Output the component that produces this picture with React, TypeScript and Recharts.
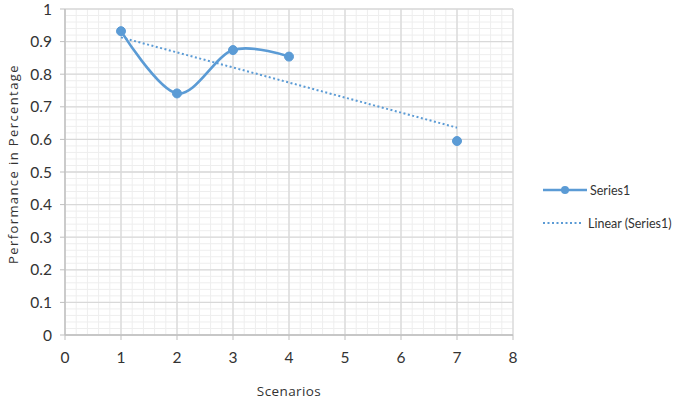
import React from 'react';
import {
  ComposedChart,
  Line,
  XAxis,
  YAxis,
  CartesianGrid,
  Legend,
  Label,
} from 'recharts';

// ---- data ----
const scenarios = [1, 2, 3, 4, 5, 6, 7];
const performance: (number | null)[] = [0.932, 0.741, 0.874, 0.854, null, null, 0.595];
const trendScenarios = [1, 7];
const trendValues = [0.913, 0.636];
const xTicks = [0, 1, 2, 3, 4, 5, 6, 7, 8];
const yTicks = [0, 0.1, 0.2, 0.3, 0.4, 0.5, 0.6, 0.7, 0.8, 0.9, 1];
const seriesName = 'Series1';
const trendName = 'Linear (Series1)';
const xTitle = 'Scenarios';
const yTitle = 'Performance in Percentage';

const BLUE = '#5B9BD5';
const TEXT = '#333333';

const seriesData = scenarios.map((x, i) => ({ x, y: performance[i] }));
const trendData = trendScenarios.map((x, i) => ({ x, y: trendValues[i] }));

const minorX = Array.from({ length: 41 }, (_, i) => +(i * 0.2).toFixed(2));
const minorY = Array.from({ length: 51 }, (_, i) => +(i * 0.02).toFixed(2));

// Catmull-Rom style (cardinal, tension 0) curve similar to Excel smoothing
function smoothCurve(context: any) {
  const k = 1 / 6;
  const s: any = {
    _x0: NaN, _x1: NaN, _x2: NaN, _y0: NaN, _y1: NaN, _y2: NaN, _point: 0, _line: NaN,
  };
  const bez = (x: number, y: number) => {
    context.bezierCurveTo(
      s._x1 + k * (s._x2 - s._x0),
      s._y1 + k * (s._y2 - s._y0),
      s._x2 + k * (s._x1 - x),
      s._y2 + k * (s._y1 - y),
      s._x2,
      s._y2
    );
  };
  return {
    areaStart() { s._line = 0; },
    areaEnd() { s._line = NaN; },
    lineStart() {
      s._x0 = s._x1 = s._x2 = s._y0 = s._y1 = s._y2 = NaN;
      s._point = 0;
    },
    lineEnd() {
      switch (s._point) {
        case 2: context.lineTo(s._x2, s._y2); break;
        case 3: bez(s._x1, s._y1); break;
      }
      if (s._line || (s._line !== 0 && s._point === 1)) context.closePath();
      s._line = 1 - s._line;
    },
    point(x: number, y: number) {
      x = +x; y = +y;
      switch (s._point) {
        case 0:
          s._point = 1;
          s._line ? context.lineTo(x, y) : context.moveTo(x, y);
          break;
        case 1:
          s._point = 2;
          s._x1 = x; s._y1 = y;
          break;
        case 2:
          s._point = 3;
          bez(x, y);
          break;
        default:
          bez(x, y);
          break;
      }
      s._x0 = s._x1; s._x1 = s._x2; s._x2 = x;
      s._y0 = s._y1; s._y1 = s._y2; s._y2 = y;
    },
  };
}

const renderLegend = () => (
  <div style={{ fontFamily: 'Lato, sans-serif', fontSize: 12.5, color: TEXT, width: 150 }}>
    <div style={{ display: 'flex', alignItems: 'center', height: 14 }}>
      <svg width={44} height={12} style={{ display: 'block' }}>
        <line x1={0} y1={6} x2={44} y2={6} stroke={BLUE} strokeWidth={2.5} />
        <circle cx={22} cy={6} r={4} fill={BLUE} />
      </svg>
      <span style={{ marginLeft: 3 }}>{seriesName}</span>
    </div>
    <div style={{ display: 'flex', alignItems: 'center', height: 14, marginTop: 19 }}>
      <svg width={40} height={12} style={{ display: 'block' }}>
        <line x1={0} y1={6} x2={40} y2={6} stroke={BLUE} strokeWidth={2} strokeDasharray="2 2.5" />
      </svg>
      <span style={{ marginLeft: 5 }}>{trendName}</span>
    </div>
  </div>
);

const YTitle = (props: any) => {
  const vb = props.viewBox || { x: 0, y: 9, width: 65, height: 326 };
  const cx = 13;
  const cy = vb.y + vb.height / 2 - 8;
  return (
    <text
      x={cx}
      y={cy}
      transform={`rotate(-90, ${cx}, ${cy})`}
      textAnchor="middle"
      dominantBaseline="central"
      fontFamily="'Open Sans', sans-serif"
      fontSize={13}
      letterSpacing={1.4}
      fill={TEXT}
    >
      {yTitle}
    </text>
  );
};

export default function App() {
  return (
    <div style={{ position: 'absolute', left: 0, top: 0, width: 685, height: 400, background: '#fff' }}>
      <ComposedChart
        width={685}
        height={400}
        margin={{ top: 9, right: 172, bottom: 0, left: 0 }}
      >
        <CartesianGrid
          stroke="#eeeeee"
          strokeWidth={1}
          horizontalValues={minorY}
          verticalValues={minorX}
        />
        <CartesianGrid
          stroke="#d9d9d9"
          strokeWidth={1.3}
          horizontalValues={yTicks}
          verticalValues={xTicks}
        />
        <XAxis
          type="number"
          dataKey="x"
          domain={[0, 8]}
          ticks={xTicks}
          interval={0}
          allowDataOverflow
          height={65}
          tickSize={5}
          tickMargin={12}
          axisLine={{ stroke: '#bfbfbf', strokeWidth: 1.3 }}
          tickLine={{ stroke: '#bfbfbf' }}
          tick={{ fill: TEXT, fontSize: 15.5, fontFamily: 'Lato, sans-serif' }}
        >
          <Label
            value={xTitle}
            position="insideBottom"
            offset={4}
            style={{ fill: TEXT, fontSize: 13.5, fontFamily: "'Open Sans', sans-serif", letterSpacing: 0.4 }}
          />
        </XAxis>
        <YAxis
          type="number"
          domain={[0, 1]}
          ticks={yTicks}
          interval={0}
          allowDataOverflow
          width={65}
          tickSize={5}
          tickMargin={8}
          axisLine={{ stroke: '#bfbfbf', strokeWidth: 1.3 }}
          tickLine={{ stroke: '#bfbfbf' }}
          tick={{ fill: TEXT, fontSize: 15.5, fontFamily: 'Lato, sans-serif' }}
        >
          <Label content={<YTitle />} />
        </YAxis>
        <Line
          data={trendData}
          dataKey="y"
          name={trendName}
          type="linear"
          stroke={BLUE}
          strokeWidth={2}
          strokeDasharray="2 2.5"
          dot={false}
          activeDot={false}
          isAnimationActive={false}
        />
        <Line
          data={seriesData}
          dataKey="y"
          name={seriesName}
          type={smoothCurve as any}
          stroke={BLUE}
          strokeWidth={2.6}
          dot={{ r: 4.5, fill: BLUE, stroke: BLUE, strokeWidth: 1 }}
          activeDot={false}
          isAnimationActive={false}
        />
        <Legend
          layout="horizontal"
          verticalAlign="middle"
          align="center"
          content={renderLegend}
          wrapperStyle={{ position: 'absolute', left: 543, top: 183, width: 150 }}
        />
      </ComposedChart>
    </div>
  );
}
